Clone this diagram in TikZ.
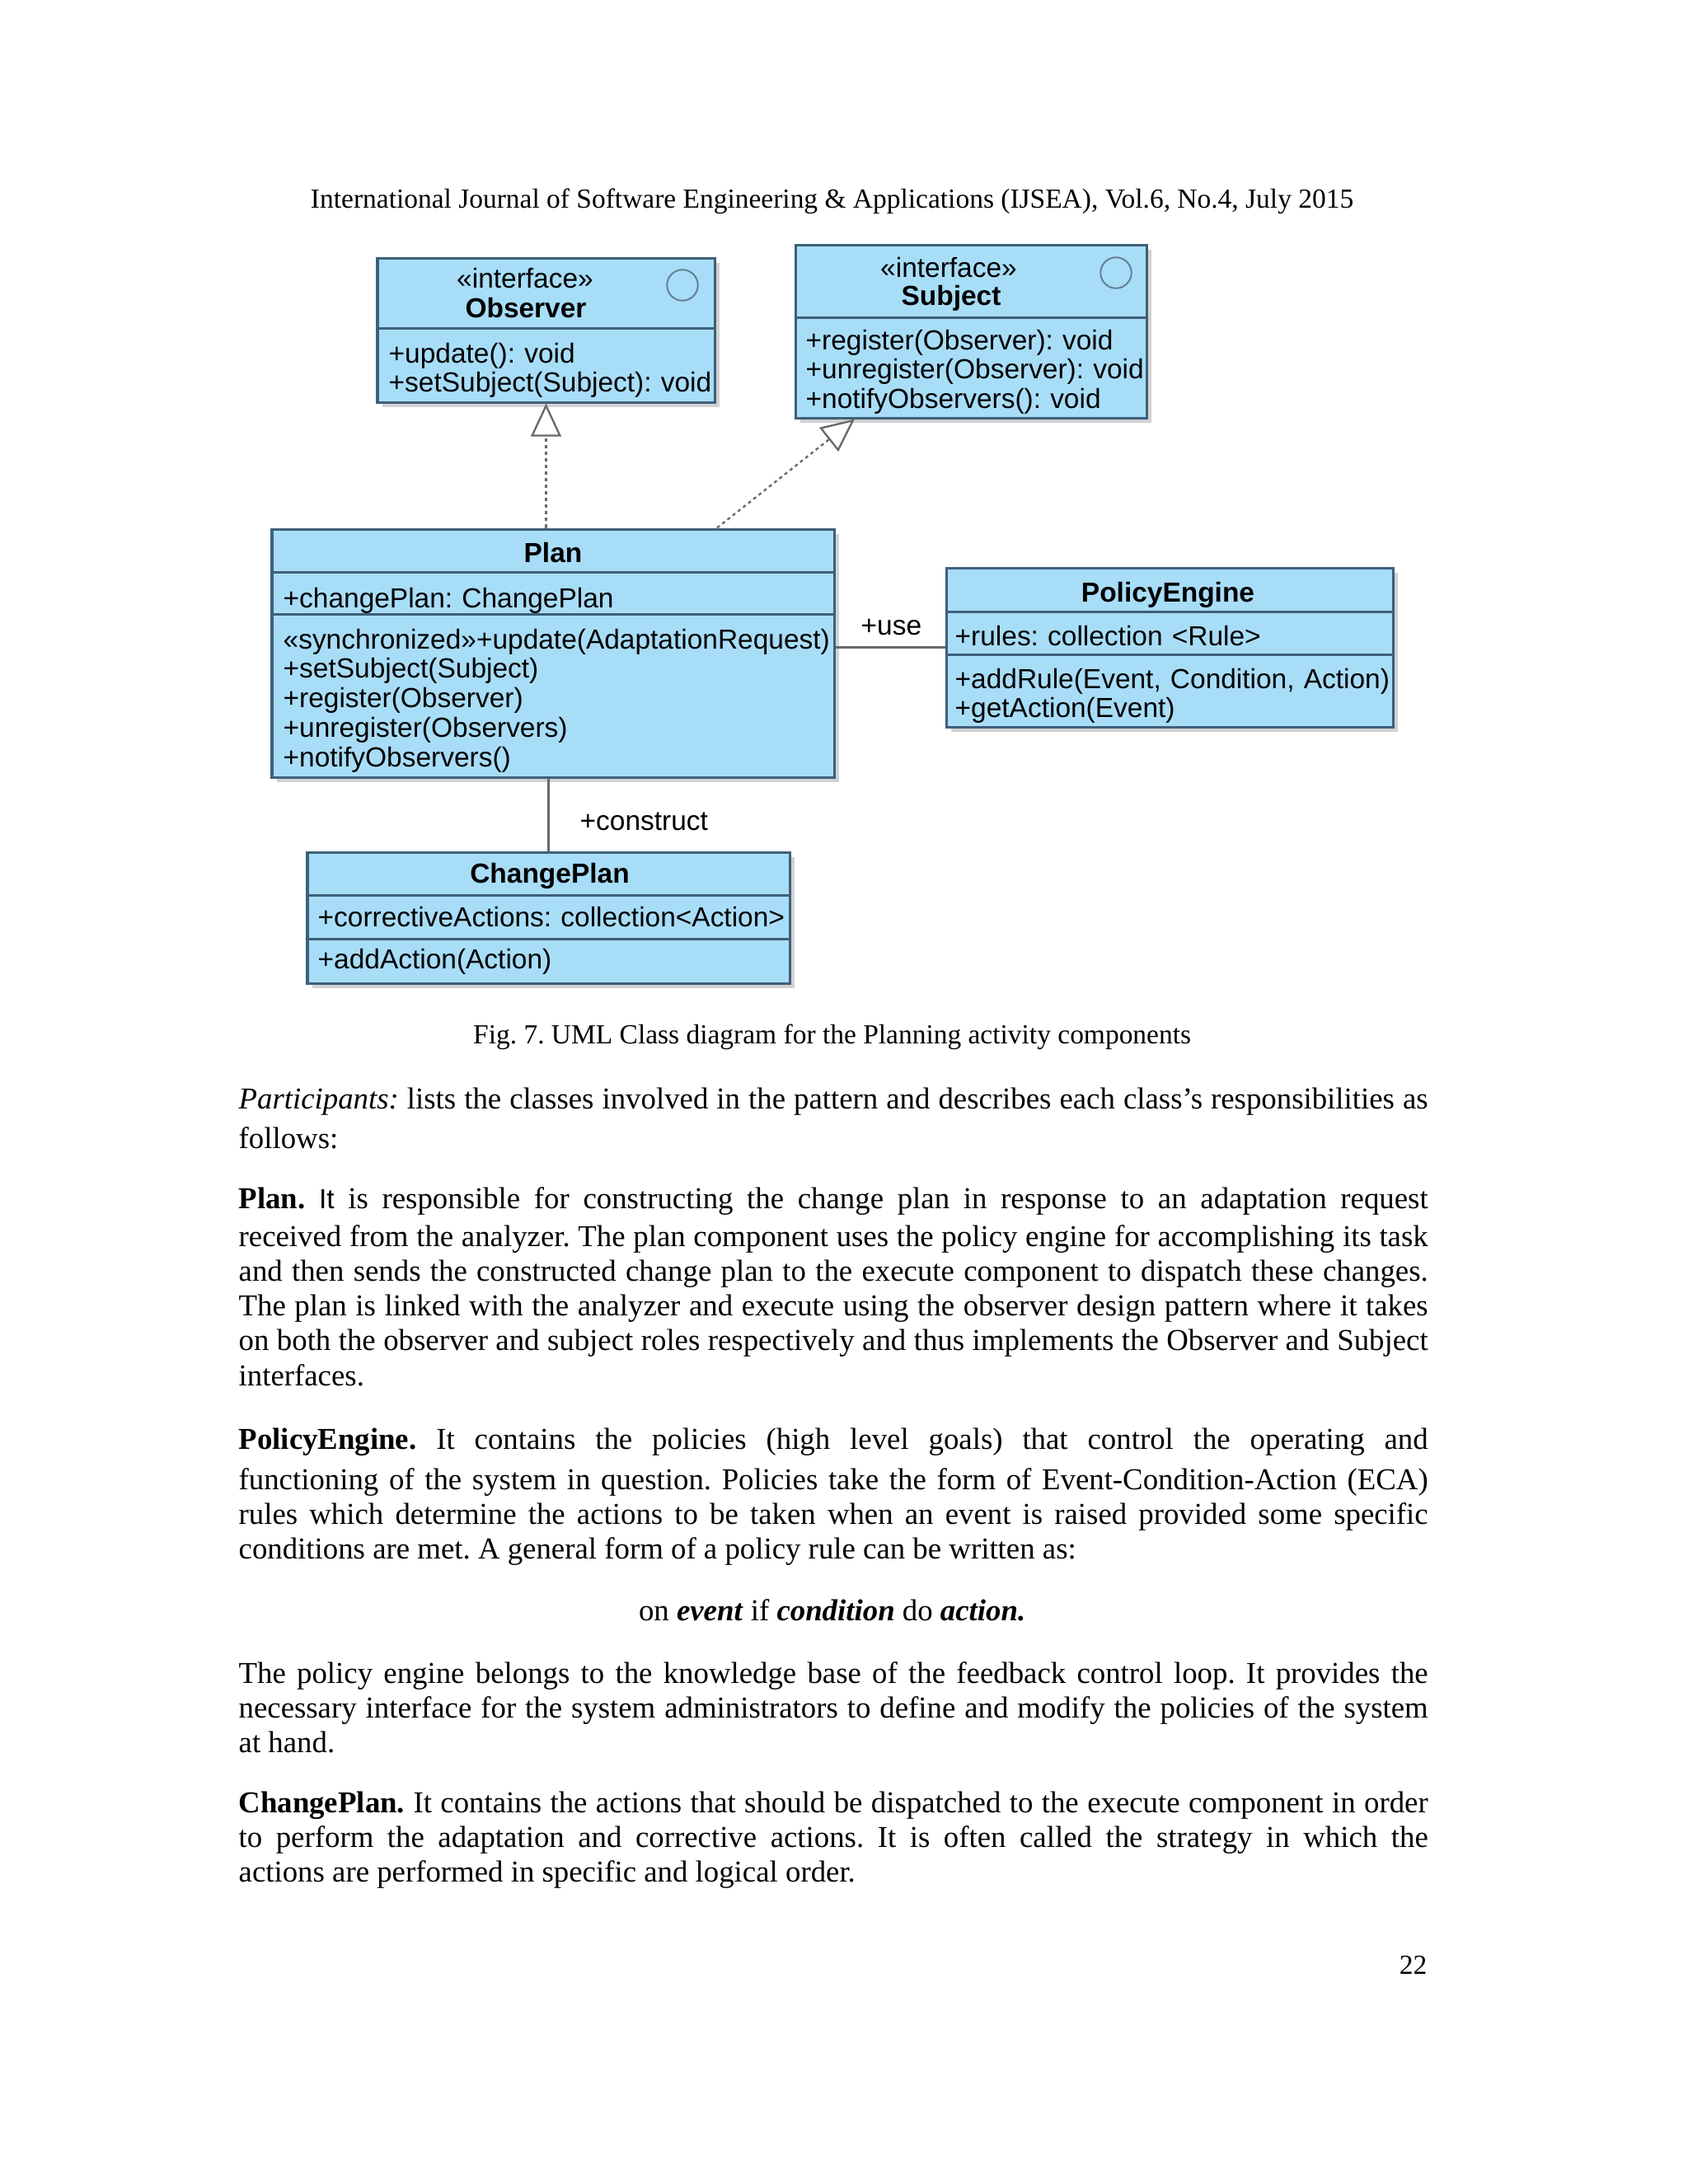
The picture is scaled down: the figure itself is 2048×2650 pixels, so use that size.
\documentclass[tikz,border=0pt]{standalone}
\usepackage{fontspec}
\setmainfont{Liberation Serif}
\newfontfamily\umlfont{Liberation Sans}
\usepackage{tikz}
\usetikzlibrary{arrows.meta}
\usetikzlibrary{shadows}
\definecolor{classblue}{RGB}{168,221,248}
\definecolor{classedge}{RGB}{62,96,122}
\definecolor{linkgray}{RGB}{105,105,105}
\def\pxu{*0.29883pt}
\newcommand\bodyfont{\fontsize{11}{12.63}\selectfont}
\newcommand\umltext{\umlfont\fontsize{10}{10.7}\selectfont}
\newcommand\textw{431.2pt}
\frenchspacing

\begin{document}
\begin{tikzpicture}[x=0.29883pt,y=-0.29883pt,
  classbox/.style={draw=classedge,line width=0.9pt,fill=classblue,inner sep=0pt,
    drop shadow={shadow xshift=1.8pt,shadow yshift=-1.8pt,fill=black,opacity=.18}},
  compart/.style={draw=classedge,line width=1.1pt},
  classname/.style={anchor=base,inner sep=0pt,font=\umlfont\fontsize{10}{12}\selectfont\bfseries},
  stereo/.style={anchor=base,inner sep=0pt,font=\umltext},
  members/.style={anchor=base west,inner sep=0pt,font=\umltext,text width=200pt,align=left},
  rolename/.style={anchor=base west,inner sep=0pt,font=\umltext},
  realize/.style={draw=linkgray,line width=0.7pt,dash pattern=on 1.2pt off 1.2pt,
    -{Triangle[open,length=12pt,width=11pt,fill=white]}},
  assoc/.style={draw=linkgray,line width=0.8pt},
  iconring/.style={draw=classedge!80,line width=0.6pt},
  bodyline/.style={anchor=base west,inner sep=0pt,font=\bodyfont},
  bodypar/.style={anchor=base west,inner sep=0pt,font=\bodyfont,text width=\textw,align=justify}]
\useasboundingbox (0,0) rectangle (2048,2650);

\node[anchor=base,inner sep=0pt,font=\fontsize{10}{12}\selectfont] (journal) at (1009.6,252)
  {International Journal of Software Engineering \& Applications (IJSEA), Vol.6, No.4, July 2015};

\node[classbox,minimum width=409\pxu,minimum height=175\pxu] (observer) at (662.5,400.5) {};
\node[classbox,minimum width=426\pxu,minimum height=210\pxu] (subject) at (1178,402) {};
\node[classbox,minimum width=682\pxu,minimum height=301\pxu] (plan) at (671,792.5) {};
\node[classbox,minimum width=542\pxu,minimum height=193\pxu] (policy) at (1419,785.5) {};
\node[classbox,minimum width=585\pxu,minimum height=159\pxu] (changeplan) at (665.5,1113.5) {};

\draw[compart] ([yshift=-87\pxu]observer.north west) -- ([yshift=-87\pxu]observer.north east);
\draw[compart] ([yshift=-90\pxu]subject.north west) -- ([yshift=-90\pxu]subject.north east);
\draw[compart] ([yshift=-54\pxu]plan.north west) -- ([yshift=-54\pxu]plan.north east);
\draw[compart] ([yshift=-105\pxu]plan.north west) -- ([yshift=-105\pxu]plan.north east);
\draw[compart] ([yshift=-55\pxu]policy.north west) -- ([yshift=-55\pxu]policy.north east);
\draw[compart] ([yshift=-107\pxu]policy.north west) -- ([yshift=-107\pxu]policy.north east);
\draw[compart] ([yshift=-54\pxu]changeplan.north west) -- ([yshift=-54\pxu]changeplan.north east);
\draw[compart] ([yshift=-107\pxu]changeplan.north west) -- ([yshift=-107\pxu]changeplan.north east);

\draw[iconring] (828,346) circle (5.6pt);
\draw[iconring] (1354,331) circle (5.6pt);

\node[stereo] (obsstereo) at (637,349) {«interface»};
\node[classname] (obsname) at (638,385) {Observer};
\node[members] (obsops) at (471,440) {+update(): void\\+setSubject(Subject): void};

\node[stereo] (substereo) at (1151,336) {«interface»};
\node[classname] (subname) at (1154,370) {Subject};
\node[members] (subops) at (977,424) {+register(Observer): void\\+unregister(Observer): void\\+notifyObservers(): void};

\node[classname] (planname) at (671,682) {Plan};
\node[members] (planattr) at (343,737) {+changePlan: ChangePlan};
\node[members] (planops) at (343,787) {«synchronized»+update(AdaptationRequest)\\+setSubject(Subject)\\+register(Observer)\\+unregister(Observers)\\+notifyObservers()};

\node[classname] (policyname) at (1417,730) {PolicyEngine};
\node[members] (policyattr) at (1158,783) {+rules: collection <Rule>};
\node[members] (policyops) at (1158,835) {+addRule(Event, Condition, Action)\\+getAction(Event)};

\node[classname] (cpname) at (667,1071) {ChangePlan};
\node[members] (cpattr) at (385,1124) {+correctiveActions: collection<Action>};
\node[members] (cpops) at (385,1175) {+addAction(Action)};

\draw[realize] (observer.south |- plan.north) -- (observer.south);
\draw[realize] ([xshift=199\pxu]plan.north) -- ([xshift=-141\pxu]subject.south);
\draw[assoc] (plan.east |- policy.west) -- (policy.west);
\draw[assoc] (changeplan.north |- plan.south) -- (changeplan.north);
\node[rolename] (use) at (1044,770) {+use};
\node[rolename] (construct) at (703,1007) {+construct};

\node[anchor=base,inner sep=0pt,font=\fontsize{10}{12}\selectfont] (caption) at (1009.6,1266)
  {Fig. 7. UML Class diagram for the Planning activity components};

\node[bodyline] (partA) at (289,1345) {\makebox[\textw][s]{\textit{Participants:} lists the classes involved in the pattern and describes each class's responsibilities as}};
\node[bodyline] (partB) at (289,1393) {follows:};

\node[bodyline] (planA) at (289,1466) {\makebox[\textw][s]{\textbf{Plan.} {\umlfont\fontsize{10}{12}\selectfont It} is responsible for constructing the change plan in response to an adaptation request}};
\node[bodypar] (planB) at (289,1512) {received from the analyzer. The plan component uses the policy engine for accomplishing its task\linebreak
and then sends the constructed change plan to the execute component to dispatch these changes.\linebreak
The plan is linked with the analyzer and execute using the observer design pattern where it takes\linebreak
on both the observer and subject roles respectively and thus implements the Observer and Subject\linebreak
interfaces.};

\node[bodyline] (policyA) at (289,1758) {\makebox[\textw][s]{\textbf{PolicyEngine.} It contains the policies (high level goals) that control the operating and}};
\node[bodypar] (policyB) at (289,1807) {functioning of the system in question. Policies take the form of Event-Condition-Action (ECA)\linebreak
rules which determine the actions to be taken when an event is raised provided some specific\linebreak
conditions are met. A general form of a policy rule can be written as:};

\node[anchor=base,inner sep=0pt,font=\bodyfont] (rule) at (1009.6,1966)
  {on \textbf{\textit{event}} if \textbf{\textit{condition}} do \textbf{\textit{action.}}};

\node[bodypar] (policyC) at (289,2042) {The policy engine belongs to the knowledge base of the feedback control loop. It provides the\linebreak
necessary interface for the system administrators to define and modify the policies of the system\linebreak
at hand.};

\node[bodypar] (cpdesc) at (289,2199) {\textbf{ChangePlan.} It contains the actions that should be dispatched to the execute component in order\linebreak
to perform the adaptation and corrective actions. It is often called the strategy in which the\linebreak
actions are performed in specific and logical order.};

\node[anchor=base east,inner sep=0pt,font=\fontsize{10}{12}\selectfont] (pagenum) at (1732,2395) {22};
\end{tikzpicture}
\end{document}
